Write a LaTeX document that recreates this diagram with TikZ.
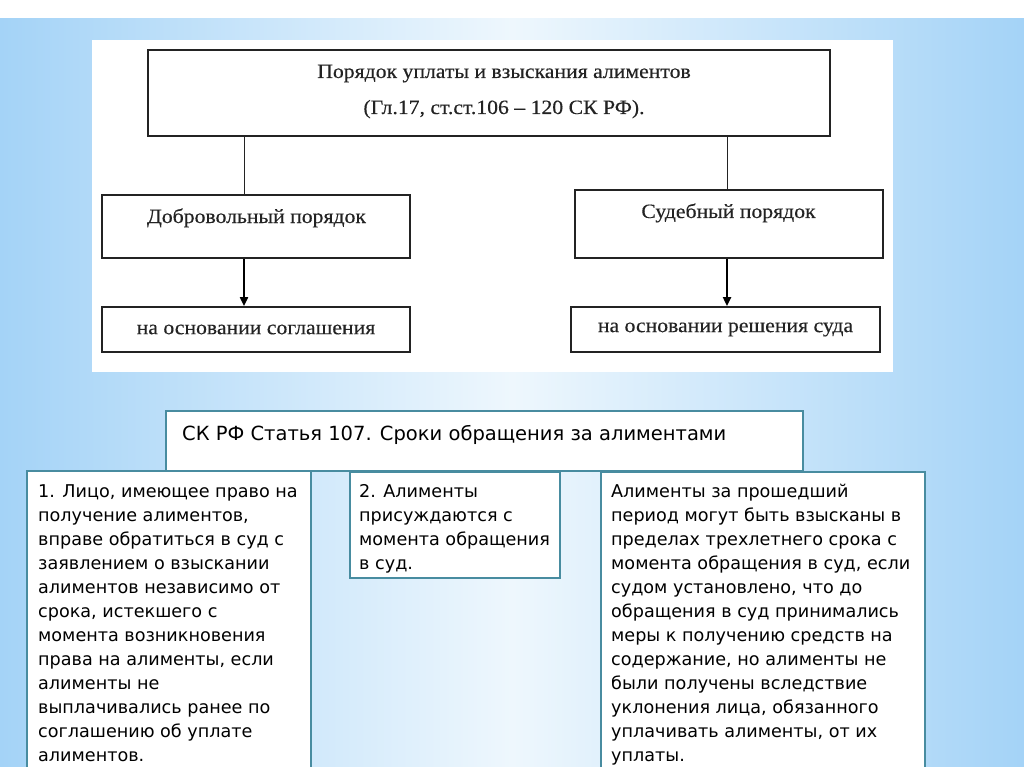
\documentclass[tikz,border=0pt]{standalone}
\usepackage{fontspec}
\setmainfont{Liberation Serif}[FakeStretch=1.07,FakeBold=0.3]
\newfontfamily\dvsans{DejaVu Sans}
\usetikzlibrary{arrows.meta}
\definecolor{bgblue}{RGB}{164,211,247}
\definecolor{bglight}{RGB}{238,247,253}
\definecolor{tealb}{RGB}{72,140,160}
\definecolor{ink}{RGB}{35,35,35}
\begin{document}
\begin{tikzpicture}[x=1pt,y=-1pt,
  pbox/.style={draw=ink, line width=1.8pt, fill=white, inner sep=0pt},
  ptxt/.style={font=\fontsize{20.3}{24}\selectfont, text=ink, inner sep=0pt},
  tbox/.style={draw=tealb, line width=2pt, fill=white, inner sep=0pt},
  ttxt/.style={font=\dvsans\fontsize{17.6}{24}\selectfont, align=left, inner sep=0pt, anchor=north west, text=black},
  thinline/.style={draw=ink, line width=1pt},
  arr/.style={draw=black, line width=2pt, -{Triangle[length=9pt,width=8pt]}}]
\useasboundingbox (0,0) rectangle (1024,767);
\clip (0,0) rectangle (1024,767);
% background
\shade[left color=bgblue, right color=bgblue, middle color=bglight] (0,18) rectangle (1024,767);
\fill[white] (0,0) rectangle (1024,18);
\fill[white] (92,40) rectangle (893,372);
% top scheme
\node[pbox, minimum width=682, minimum height=86] (title) at (489,93) {};
\node[pbox, minimum width=308, minimum height=63] (dobr) at (256,226.5) {};
\node[pbox, minimum width=308, minimum height=68] (sud) at (729,224) {};
\node[pbox, minimum width=308, minimum height=45, ptxt] (sogl) at (256,329.5) {на основании соглашения};
\node[pbox, minimum width=309, minimum height=45, ptxt] (resh) at (725.5,329.5) {на основании решения суда};
\node[ptxt, anchor=base] (t1) at (504,78) {Порядок уплаты и взыскания алиментов};
\node[ptxt, anchor=base] (t2) at (504,114) {(Гл.17, ст.ст.106 – 120 СК РФ).};
\node[ptxt, anchor=base] (t3) at (256.5,223) {Добровольный порядок};
\node[ptxt, anchor=base] (t4) at (728.5,218) {Судебный порядок};
\coordinate (lx) at (244,0);
\coordinate (rx) at (727,0);
\draw[thinline] (title.south -| lx) -- (dobr.north -| lx);
\draw[thinline] (title.south -| rx) -- (sud.north -| rx);
\draw[arr] (dobr.south -| lx) -- (sogl.north -| lx);
\draw[arr] (sud.south -| rx) -- (resh.north -| rx);
% bottom scheme
\node[tbox, minimum width=637, minimum height=60] (head) at (484.5,441) {};
\node[font=\dvsans\fontsize{19.5}{24}\selectfont, anchor=base west, inner sep=0pt] (ht) at (182,440) {СК РФ Статья 107. Сроки обращения за алиментами};
\node[tbox, minimum width=284, minimum height=319] (b1) at (169,630.5) {};
\node[tbox, minimum width=210, minimum height=106] (b2) at (455,525) {};
\node[tbox, minimum width=324, minimum height=318] (b3) at (763,631) {};
\node[ttxt] (x1) at (38,484) {1. Лицо, имеющее право на\\получение алиментов,\\вправе обратиться в суд с\\заявлением о взыскании\\алиментов независимо от\\срока, истекшего с\\момента возникновения\\права на алименты, если\\алименты не\\выплачивались ранее по\\соглашению об уплате\\алиментов.};
\node[ttxt] (x2) at (359,484) {2. Алименты\\присуждаются с\\момента обращения\\в суд.};
\node[ttxt] (x3) at (611,484) {Алименты за прошедший\\период могут быть взысканы в\\пределах трехлетнего срока с\\момента обращения в суд, если\\судом установлено, что до\\обращения в суд принимались\\меры к получению средств на\\содержание, но алименты не\\были получены вследствие\\уклонения лица, обязанного\\уплачивать алименты, от их\\уплаты.};
\end{tikzpicture}
\end{document}
